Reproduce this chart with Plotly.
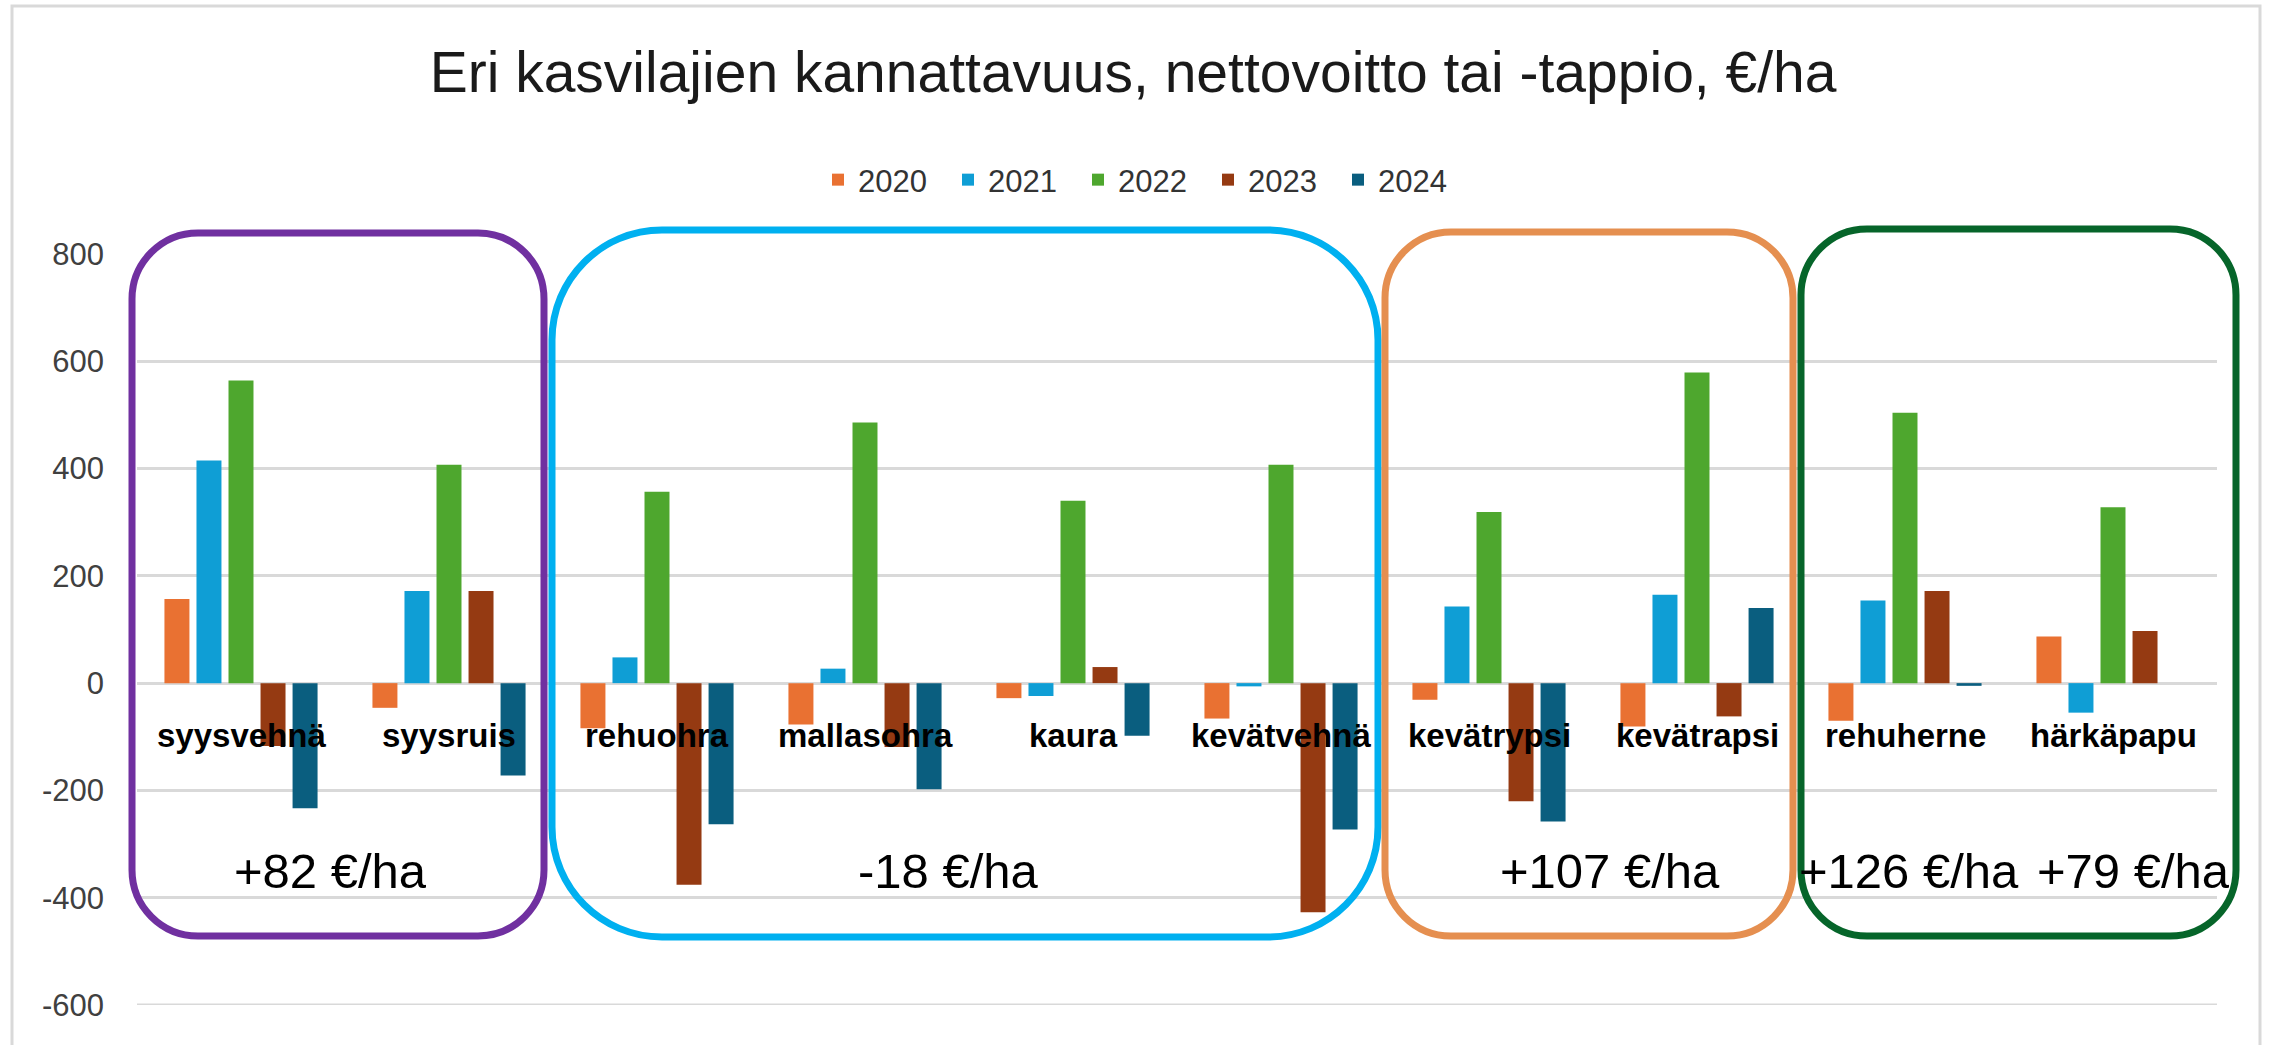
import plotly.graph_objects as go

# ---------------- data ----------------
categories = ["syysvehnä", "syysruis", "rehuohra", "mallasohra", "kaura",
              "kevätvehnä", "kevätrypsi", "kevätrapsi", "rehuherne", "härkäpapu"]
years = ["2020", "2021", "2022", "2023", "2024"]
v2020 = [157, -46, -84, -77, -28, -66, -31, -81, -70, 87]
v2021 = [415, 172, 48, 27, -24, -6, 143, 165, 154, -55]
v2022 = [564, 407, 357, 486, 340, 407, 319, 579, 504, 328]
v2023 = [-117, 172, -376, -119, 30, -427, -220, -62, 172, 97]
v2024 = [-233, -172, -263, -198, -98, -273, -258, 140, -5, None]
series = [v2020, v2021, v2022, v2023, v2024]
colors = ["#E97132", "#0F9ED5", "#4EA72E", "#953A12", "#0A5E7F"]

group_labels = ["+82 €/ha", "-18 €/ha", "+107 €/ha", "+126 €/ha", "+79 €/ha"]
group_label_x = [0.43, 3.40, 6.58, 8.02, 9.10]   # category-axis positions
group_label_y = -350

y_ticks = [800, 600, 400, 200, 0, -200, -400, -600]

# ---------------- layout geometry ----------------
W, H = 2272, 1045
ML, MR, MT, MB = 137, 55, 254, 40
PW, PH = W - ML - MR, H - MT - MB

def px2paper(x, y):
    return (x - ML) / PW, 1 - (y - MT) / PH

def rounded_rect(x0, y0, x1, y1, r):
    k = 0.5523 * r
    def P(x, y):
        px, py = px2paper(x, y)
        return f"{px:.5f},{py:.5f}"
    d = (f"M {P(x0 + r, y0)} L {P(x1 - r, y0)} "
         f"C {P(x1 - r + k, y0)} {P(x1, y0 + r - k)} {P(x1, y0 + r)} "
         f"L {P(x1, y1 - r)} "
         f"C {P(x1, y1 - r + k)} {P(x1 - r + k, y1)} {P(x1 - r, y1)} "
         f"L {P(x0 + r, y1)} "
         f"C {P(x0 + r - k, y1)} {P(x0, y1 - r + k)} {P(x0, y1 - r)} "
         f"L {P(x0, y0 + r)} "
         f"C {P(x0, y0 + r - k)} {P(x0 + r - k, y0)} {P(x0 + r, y0)} Z")
    return d

boxes = [
    (132, 233, 544, 936, 66, "#7030A0"),
    (552, 230, 1378, 937, 110, "#00B0F0"),
    (1385, 232, 1793, 936, 66, "#E58F50"),
    (1801, 229, 2236, 936, 66, "#06652A"),
]

fig = go.Figure()
for name, vals, col in zip(years, series, colors):
    fig.add_trace(go.Bar(x=categories, y=vals, name=name,
                         marker=dict(color=col, line=dict(width=0))))

shapes = []
# bottom gridline at the range edge
shapes.append(dict(type="line", xref="paper", yref="y", x0=0, x1=1,
                   y0=y_ticks[-1], y1=y_ticks[-1],
                   line=dict(color="#D9D9D9", width=3), layer="below"))
for x0, y0, x1, y1, r, col in boxes:
    shapes.append(dict(type="path", xref="paper", yref="paper",
                       path=rounded_rect(x0, y0, x1, y1, r),
                       line=dict(color=col, width=7), layer="above"))
# outer chart frame
fx0, fy0 = px2paper(12, 6)
fx1, fy1 = px2paper(2260, 1100)
shapes.append(dict(type="rect", xref="paper", yref="paper",
                   x0=fx0, y0=fy0, x1=fx1, y1=fy1,
                   line=dict(color="#D9D9D9", width=3), layer="below"))

annotations = []
for i, c in enumerate(categories):
    annotations.append(dict(x=i, y=-97, xref="x", yref="y", text=f"<b>{c}</b>",
                            showarrow=False, xanchor="center", yanchor="middle",
                            font=dict(family="Liberation Sans, Arial", size=33, color="#000000")))
for t, gx in zip(group_labels, group_label_x):
    annotations.append(dict(x=gx, y=group_label_y, xref="x", yref="y", text=t,
                            showarrow=False, xanchor="center", yanchor="middle",
                            font=dict(family="Liberation Sans, Arial", size=49, color="#000000")))

lx, ly = px2paper(1143, 180)

fig.update_layout(
    width=W, height=H, autosize=False,
    margin=dict(l=ML, r=MR, t=MT, b=MB),
    paper_bgcolor="white", plot_bgcolor="white",
    barmode="group", bargap=0.23, bargroupgap=0.22,
    title=dict(text="Eri kasvilajien kannattavuus, nettovoitto tai -tappio, €/ha",
               x=0.4987, xanchor="center", xref="container",
               y=1 - 72 / H, yanchor="middle", yref="container",
               font=dict(family="Liberation Sans, Arial", size=57, color="#1A1A1A")),
    legend=dict(orientation="h", x=lx, y=ly, xanchor="center", yanchor="middle",
                font=dict(family="Liberation Sans, Arial", size=31, color="#333333"),
                entrywidth=85, traceorder="normal", bgcolor="rgba(0,0,0,0)"),
    xaxis=dict(range=[-0.5, len(categories) - 0.5], autorange=False,
               showticklabels=False, showgrid=False, zeroline=False, showline=False,
               ticks=""),
    yaxis=dict(range=[-600, 800], autorange=False, tickvals=y_ticks,
               ticktext=[str(v) for v in y_ticks],
               showgrid=True, gridcolor="#D9D9D9", gridwidth=3,
               zeroline=True, zerolinecolor="#D9D9D9", zerolinewidth=3,
               showline=False, ticks="", ticklabelstandoff=32,
               tickfont=dict(family="Liberation Sans, Arial", size=31, color="#404040")),
    shapes=shapes, annotations=annotations,
    showlegend=True,
)

fig.write_html("out.html", config={"displayModeBar": False},
               post_script="document.body.style.margin='0';document.body.style.overflow='hidden';")
